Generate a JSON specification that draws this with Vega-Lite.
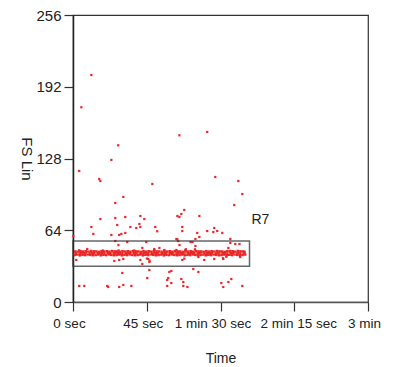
{
  "$schema": "https://vega.github.io/schema/vega-lite/v6.json",
  "width": 295,
  "height": 287,
  "autosize": {"type": "none"},
  "padding": {"left": 73, "top": 15, "right": 27, "bottom": 65},
  "background": "white",
  "config": {"view": {"stroke": "#333333", "strokeWidth": 1.2}, "font": "Liberation Sans"},
  "datasets": {
    "events": [
      {"t":11.2,"v":202.5},{"t":5.1,"v":173.7},{"t":27.6,"v":139.8},{"t":64.9,"v":148.7},{"t":81.9,"v":151.7},{"t":23.4,"v":126.7},{"t":3.8,"v":116.9},{"t":16.0,"v":109.7},{"t":16.7,"v":107.9},{"t":48.4,"v":105.3},{"t":30.7,"v":93.7},{"t":25.8,"v":88.3},{"t":86.8,"v":111.5},{"t":100.9,"v":107.9},{"t":103.3,"v":96.3},{"t":98.4,"v":86.5},
      {"t":41.1,"v":76.7},{"t":31.9,"v":75.8},{"t":16.7,"v":74.0},{"t":25.8,"v":74.9},{"t":43.5,"v":74.0},{"t":27.0,"v":68.7},{"t":40.5,"v":69.6},{"t":11.2,"v":66.9},{"t":35.0,"v":66.9},{"t":38.6,"v":66.0},{"t":41.1,"v":66.9},{"t":50.2,"v":66.9},{"t":51.4,"v":63.1},{"t":12.4,"v":60.7},{"t":31.9,"v":61.6},{"t":29.5,"v":60.7},{"t":28.2,"v":59.8},{"t":23.4,"v":59.8},{"t":0.2,"v":58.9},{"t":33.1,"v":53.5},{"t":44.7,"v":53.5},{"t":25.8,"v":54.4},
      {"t":67.9,"v":82.1},{"t":66.1,"v":78.5},{"t":63.7,"v":76.7},{"t":64.9,"v":75.8},{"t":77.1,"v":76.7},{"t":66.7,"v":66.9},{"t":66.7,"v":63.3},{"t":86.2,"v":66.0},{"t":81.9,"v":63.3},{"t":85.6,"v":62.4},{"t":88.0,"v":63.3},{"t":91.1,"v":61.6},{"t":75.8,"v":61.6},{"t":77.1,"v":58.0},{"t":74.7,"v":56.2},{"t":63.1,"v":56.2},{"t":96.0,"v":56.2},{"t":64.2,"v":54.4},{"t":71.7,"v":53.5},{"t":72.9,"v":53.5},{"t":96.0,"v":52.6},{"t":99.0,"v":51.7},{"t":101.6,"v":51.7},{"t":63.7,"v":55.9},
      {"t":27.7,"v":50.8},{"t":42.3,"v":48.2},{"t":8.7,"v":47.3},{"t":52.7,"v":48.2},{"t":49.6,"v":46.4},{"t":55.7,"v":46.4},{"t":2.0,"v":37.5},{"t":25.2,"v":36.6},{"t":28.2,"v":37.5},{"t":30.7,"v":38.4},{"t":41.1,"v":37.5},{"t":45.9,"v":38.4},{"t":42.3,"v":33.9},{"t":46.6,"v":35.7},{"t":65.0,"v":50.8},{"t":74.7,"v":50.0},{"t":94.8,"v":48.2},{"t":68.6,"v":46.4},{"t":63.1,"v":46.4},{"t":96.0,"v":45.5},{"t":66.7,"v":37.5},{"t":80.1,"v":37.5},{"t":86.2,"v":38.4},{"t":91.7,"v":38.4},{"t":76.5,"v":40.1},{"t":102.0,"v":40.1},{"t":3.7,"v":46.1},{"t":18.3,"v":45.9},{"t":27.8,"v":46.0},{"t":37.4,"v":45.9},{"t":68.9,"v":47.0},{"t":74.4,"v":47.0},{"t":45.1,"v":38.7},{"t":46.7,"v":36.9},{"t":67.9,"v":38.7},{"t":91.5,"v":39.0},{"t":93.5,"v":40.4},{"t":49.6,"v":47.2},
      {"t":30.1,"v":25.9},{"t":46.6,"v":28.5},{"t":58.8,"v":26.8},{"t":45.3,"v":21.4},{"t":58.1,"v":21.4},{"t":57.5,"v":19.6},{"t":30.7,"v":15.2},{"t":3.8,"v":14.3},{"t":6.9,"v":14.3},{"t":20.9,"v":14.3},{"t":21.5,"v":13.4},{"t":28.2,"v":13.4},{"t":35.6,"v":14.3},{"t":57.5,"v":14.3},{"t":73.4,"v":29.4},{"t":76.5,"v":26.8},{"t":60.0,"v":27.7},{"t":66.1,"v":20.5},{"t":96.6,"v":20.5},{"t":67.3,"v":17.8},{"t":90.5,"v":16.9},{"t":94.8,"v":17.8},{"t":60.0,"v":16.9},{"t":67.3,"v":14.3},{"t":69.8,"v":13.4},{"t":91.7,"v":13.4},{"t":103.3,"v":14.3}
    ],
    "band": [
      {"t":1.0,"v":42.0},{"t":2.6,"v":42.4},{"t":4.2,"v":41.7},{"t":5.8,"v":42.2},{"t":7.4,"v":41.9},{"t":9.0,"v":42.5},{"t":10.6,"v":42.1},{"t":12.2,"v":41.8},{"t":13.8,"v":42.0},{"t":15.4,"v":42.4},{"t":17.0,"v":41.7},{"t":18.6,"v":42.2},{"t":20.2,"v":41.9},{"t":21.8,"v":42.5},{"t":23.4,"v":42.1},{"t":25.0,"v":41.8},{"t":26.6,"v":42.0},{"t":28.2,"v":42.4},{"t":29.8,"v":41.7},{"t":31.4,"v":42.2},{"t":33.0,"v":41.9},{"t":34.6,"v":42.5},{"t":36.2,"v":42.1},{"t":37.8,"v":41.8},{"t":39.4,"v":42.0},{"t":41.0,"v":42.4},{"t":42.6,"v":41.7},{"t":44.2,"v":42.2},{"t":45.8,"v":41.9},{"t":47.4,"v":42.5},{"t":49.0,"v":42.1},{"t":50.6,"v":41.8},{"t":52.2,"v":42.0},{"t":53.8,"v":42.4},{"t":55.4,"v":41.7},{"t":57.0,"v":42.2},{"t":58.6,"v":41.9},{"t":60.2,"v":42.5},{"t":61.8,"v":42.1},{"t":63.4,"v":41.8},{"t":65.0,"v":42.0},{"t":66.6,"v":42.4},{"t":68.2,"v":41.7},{"t":69.8,"v":42.2},{"t":71.4,"v":41.9},{"t":73.0,"v":42.5},{"t":74.6,"v":42.1},{"t":76.2,"v":41.8},{"t":77.8,"v":42.0},{"t":79.4,"v":42.4},{"t":81.0,"v":41.7},{"t":82.6,"v":42.2},{"t":84.2,"v":41.9},{"t":85.8,"v":42.5},{"t":87.4,"v":42.1},{"t":89.0,"v":41.8},{"t":90.6,"v":42.0},{"t":92.2,"v":42.4},{"t":93.8,"v":41.7},{"t":95.4,"v":42.2},{"t":97.0,"v":41.9},{"t":98.6,"v":42.5},{"t":100.2,"v":42.1},{"t":101.8,"v":41.8},{"t":103.4,"v":42.0},{"t":105.0,"v":42.4},
      {"t":1.8,"v":43.5},{"t":3.4,"v":43.2},{"t":5.0,"v":43.8},{"t":6.6,"v":43.4},{"t":8.2,"v":43.9},{"t":9.8,"v":43.3},{"t":11.4,"v":43.6},{"t":13.0,"v":43.7},{"t":14.6,"v":43.5},{"t":16.2,"v":43.2},{"t":17.8,"v":43.8},{"t":19.4,"v":43.4},{"t":21.0,"v":43.9},{"t":22.6,"v":43.3},{"t":24.2,"v":43.6},{"t":25.8,"v":43.7},{"t":27.4,"v":43.5},{"t":29.0,"v":43.2},{"t":30.6,"v":43.8},{"t":32.2,"v":43.4},{"t":33.8,"v":43.9},{"t":35.4,"v":43.3},{"t":37.0,"v":43.6},{"t":38.6,"v":43.7},{"t":40.2,"v":43.5},{"t":41.8,"v":43.2},{"t":43.4,"v":43.8},{"t":45.0,"v":43.4},{"t":46.6,"v":43.9},{"t":48.2,"v":43.3},{"t":49.8,"v":43.6},{"t":51.4,"v":43.7},{"t":53.0,"v":43.5},{"t":54.6,"v":43.2},{"t":56.2,"v":43.8},{"t":57.8,"v":43.4},{"t":59.4,"v":43.9},{"t":61.0,"v":43.3},{"t":62.6,"v":43.6},{"t":64.2,"v":43.7},{"t":65.8,"v":43.5},{"t":67.4,"v":43.2},{"t":69.0,"v":43.8},{"t":70.6,"v":43.4},{"t":72.2,"v":43.9},{"t":73.8,"v":43.3},{"t":75.4,"v":43.6},{"t":77.0,"v":43.7},{"t":78.6,"v":43.5},{"t":80.2,"v":43.2},{"t":81.8,"v":43.8},{"t":83.4,"v":43.4},{"t":85.0,"v":43.9},{"t":86.6,"v":43.3},{"t":88.2,"v":43.6},{"t":89.8,"v":43.7},{"t":91.4,"v":43.5},{"t":93.0,"v":43.2},{"t":94.6,"v":43.8},{"t":96.2,"v":43.4},{"t":97.8,"v":43.9},{"t":99.4,"v":43.3},{"t":101.0,"v":43.6},{"t":102.6,"v":43.7},{"t":104.2,"v":43.5},
      {"t":1.4,"v":45.0},{"t":3.0,"v":44.7},{"t":4.6,"v":45.3},{"t":6.2,"v":44.9},{"t":7.8,"v":45.2},{"t":9.4,"v":44.8},{"t":11.0,"v":45.4},{"t":12.6,"v":45.1},{"t":14.2,"v":45.0},{"t":15.8,"v":44.7},{"t":17.4,"v":45.3},{"t":19.0,"v":44.9},{"t":20.6,"v":45.2},{"t":22.2,"v":44.8},{"t":23.8,"v":45.4},{"t":25.4,"v":45.1},{"t":27.0,"v":45.0},{"t":28.6,"v":44.7},{"t":30.2,"v":45.3},{"t":31.8,"v":44.9},{"t":33.4,"v":45.2},{"t":35.0,"v":44.8},{"t":36.6,"v":45.4},{"t":38.2,"v":45.1},{"t":39.8,"v":45.0},{"t":41.4,"v":44.7},{"t":43.0,"v":45.3},{"t":44.6,"v":44.9},{"t":46.2,"v":45.2},{"t":47.8,"v":44.8},{"t":49.4,"v":45.4},{"t":51.0,"v":45.1},{"t":52.6,"v":45.0},{"t":54.2,"v":44.7},{"t":55.8,"v":45.3},{"t":57.4,"v":44.9},{"t":59.0,"v":45.2},{"t":60.6,"v":44.8},{"t":62.2,"v":45.4},{"t":63.8,"v":45.1},{"t":65.4,"v":45.0},{"t":67.0,"v":44.7},{"t":68.6,"v":45.3},{"t":70.2,"v":44.9},{"t":71.8,"v":45.2},{"t":73.4,"v":44.8},{"t":75.0,"v":45.4},{"t":76.6,"v":45.1},{"t":78.2,"v":45.0},{"t":79.8,"v":44.7},{"t":81.4,"v":45.3},{"t":83.0,"v":44.9},{"t":84.6,"v":45.2},{"t":86.2,"v":44.8},{"t":87.8,"v":45.4},{"t":89.4,"v":45.1},{"t":91.0,"v":45.0},{"t":92.6,"v":44.7},{"t":94.2,"v":45.3},{"t":95.8,"v":44.9},{"t":97.4,"v":45.2},{"t":99.0,"v":44.8},{"t":100.6,"v":45.4},{"t":102.2,"v":45.1},{"t":103.8,"v":45.0},{"t":104.6,"v":44.7}
    ],
    "core": [
      {"t":3,"v":43.4},{"t":9,"v":43.6},{"t":14,"v":43.3},{"t":20,"v":43.5},{"t":24,"v":43.4},{"t":31,"v":43.6},{"t":36,"v":43.3},{"t":40,"v":43.5},{"t":47,"v":43.4},{"t":53,"v":43.6},{"t":58,"v":43.3},{"t":62,"v":43.5},{"t":69,"v":43.4},{"t":75,"v":43.6},{"t":79,"v":43.3},{"t":86,"v":43.5},{"t":90,"v":43.4},{"t":95,"v":43.6},{"t":99,"v":43.3},{"t":103,"v":43.5}
    ],
    "gate": [
      {"name":"R7","t0":0,"t1":107.7,"v0":31.8,"v1":54.4,"lv":73}
    ]
  },
  "layer": [
    {
      "data": {"name": "band"},
      "mark": {"type": "point", "shape": "square", "filled": true, "size": 7, "color": "#e9262b", "opacity": 1, "strokeWidth": 0},
      "encoding": {
        "x": {"field": "t", "type": "quantitative", "title": "Time",
          "scale": {"domain": [0, 180], "nice": false, "zero": false},
          "axis": {"values": [0, 45, 90, 135, 180],
            "labelExpr": "datum.value == 0 ? '0 sec' : datum.value == 45 ? '45 sec' : datum.value == 90 ? '1 min 30 sec' : datum.value == 135 ? '2 min 15 sec' : '3 min'",
            "grid": false, "tickSize": 9, "tickColor": "#333333", "tickWidth": 1.2,
            "domainColor": "#555555", "domainWidth": 1.5,
            "labelFontSize": 13.5, "labelColor": "#222222", "labelPadding": 5, "labelFlush": false, "labelOverlap": false,
            "labelOffset": {"condition": [{"test": "datum.value == 90", "value": -8}, {"test": "datum.value == 135", "value": 4}], "value": -4},
            "titleFontSize": 14, "titleFontWeight": "normal", "titleColor": "#222222", "titleY": 56, "titleBaseline": "middle"}},
        "y": {"field": "v", "type": "quantitative", "title": "FS Lin",
          "scale": {"domain": [0, 256], "nice": false, "zero": false},
          "axis": {"values": [0, 64, 128, 192, 256], "grid": false, "tickSize": 9, "tickColor": "#333333", "tickWidth": 1.2,
            "domainColor": "#222222", "domainWidth": 1.5,
            "labelFontSize": 15, "labelColor": "#222222", "labelPadding": 3, "labelFlush": false,
            "titleFontSize": 15, "titleFontWeight": "normal", "titleColor": "#222222", "titleAngle": 90,
            "titleX": -47, "titleY": 143.5, "titleAlign": "center", "titleBaseline": "middle"}}
      }
    },
    {
      "data": {"name": "events"},
      "mark": {"type": "point", "shape": "square", "filled": true, "size": 5, "color": "#e9262b", "opacity": 1, "strokeWidth": 0},
      "encoding": {
        "x": {"field": "t", "type": "quantitative", "title": "Time"},
        "y": {"field": "v", "type": "quantitative", "title": "FS Lin"}
      }
    },
    {
      "data": {"name": "core"},
      "mark": {"type": "point", "shape": "square", "filled": true, "size": 3, "color": "#f6a13a", "opacity": 0.9, "strokeWidth": 0},
      "encoding": {
        "x": {"field": "t", "type": "quantitative", "title": "Time"},
        "y": {"field": "v", "type": "quantitative", "title": "FS Lin"}
      }
    },
    {
      "data": {"name": "gate"},
      "mark": {"type": "rect", "fill": "white", "fillOpacity": 0, "stroke": "#333333", "strokeOpacity": 0.75, "strokeWidth": 1.5},
      "encoding": {
        "x": {"field": "t0", "type": "quantitative", "title": "Time"},
        "x2": {"field": "t1"},
        "y": {"field": "v0", "type": "quantitative", "title": "FS Lin"},
        "y2": {"field": "v1"}
      }
    },
    {
      "data": {"name": "gate"},
      "mark": {"type": "text", "align": "left", "baseline": "middle", "fontSize": 14, "dx": 2, "color": "#222222", "font": "Liberation Sans"},
      "encoding": {
        "x": {"field": "t1", "type": "quantitative", "title": "Time"},
        "y": {"field": "lv", "type": "quantitative", "title": "FS Lin"},
        "text": {"field": "name"}
      }
    }
  ]
}
